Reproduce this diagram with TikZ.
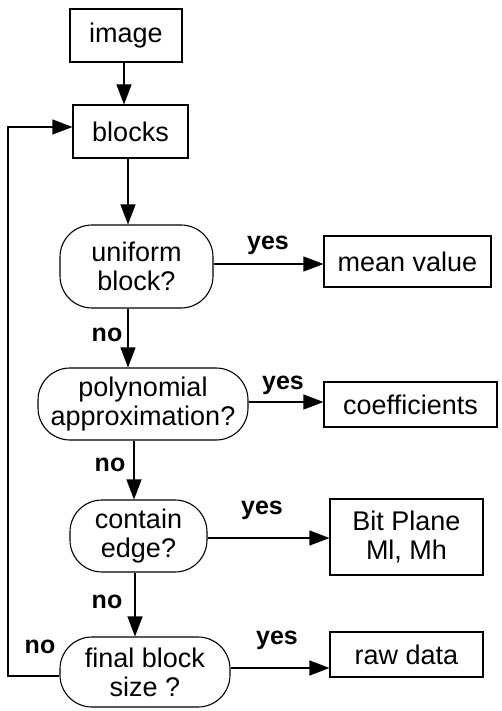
\documentclass[tikz,border=0pt]{standalone}
\usepackage{fontspec}
\setmainfont{Liberation Sans}
\usetikzlibrary{arrows.meta,calc}
\begin{document}
\begin{tikzpicture}[x=1pt,y=-1pt,
  box/.style={draw,line width=1.1pt,inner sep=0pt,align=center,font=\fontsize{27}{29}\selectfont},
  dec/.style={box,rounded corners=32pt},
  arr/.style={line width=1.1pt,-{Triangle[length=20pt,width=15pt]}},
  lbl/.style={font=\fontsize{25}{27}\selectfont\bfseries,inner sep=0pt}]
\useasboundingbox (0,0) rectangle (501,711);
\node[box,minimum width=112pt,minimum height=53pt] (image) at (126,35.5) {image};
\node[box,minimum width=115pt,minimum height=53pt] (blocks) at (130.5,131.5) {blocks};
\node[dec,minimum width=153pt,minimum height=83pt] (uniform) at (136.5,266.5) {uniform\\block?};
\node[box,minimum width=167pt,minimum height=51pt] (mean) at (407.5,261.5) {mean value};
\node[dec,minimum width=210pt,minimum height=72pt] (poly) at (143,404) {polynomial\\approximation?};
\node[box,minimum width=173pt,minimum height=45pt] (coeff) at (410.5,404.5) {coefficients};
\node[dec,minimum width=137pt,minimum height=72pt] (contain) at (138.5,536) {contain\\edge?};
\node[box,minimum width=153pt,minimum height=76pt] (bit) at (406.5,537) {Bit Plane\\Ml, Mh};
\node[dec,minimum width=170pt,minimum height=70pt] (final) at (145,672) {final block\\size ?};
\node[box,minimum width=153pt,minimum height=45pt] (raw) at (406.5,654.5) {raw data};
% vertical arrows
\coordinate (a1) at (124,0);
\coordinate (a2) at (128,0);
\coordinate (a3) at (134,0);
\coordinate (a4) at (135,0);
\draw[arr] (image.south -| a1) -- (blocks.north -| a1);
\draw[arr] (blocks.south -| a2) -- (uniform.north -| a2);
\draw[arr] (uniform.south -| a2) -- (poly.north -| a2);
\draw[arr] (poly.south -| a3) -- (contain.north -| a3);
\draw[arr] (contain.south -| a4) -- (final.north -| a4);
% horizontal arrows
\draw[arr] ([yshift=2.5pt]uniform.east) -- ([yshift=2.5pt]uniform.east -| mean.west);
\draw[arr] ([yshift=2pt]poly.east) -- ([yshift=2pt]poly.east -| coeff.west);
\draw[arr] ([yshift=-2pt]contain.east) -- ([yshift=-2pt]contain.east -| bit.west);
\draw[arr] ([yshift=4pt]final.east) -- ([yshift=4pt]final.east -| raw.west);
% loop
\coordinate (l1) at (8,676);
\coordinate (l2) at (8,127);
\draw[arr] (final.west |- l1) -- (l1) -- (l2) -- (l2 -| blocks.west);
% labels
\node[lbl] (y1) at (268,245) {yes};
\node[lbl] (y2) at (283,385) {yes};
\node[lbl] (y3) at (262,510) {yes};
\node[lbl] (y4) at (277,640) {yes};
\node[lbl] (n1) at (107,335) {no};
\node[lbl] (n2) at (110,465) {no};
\node[lbl] (n3) at (107,602) {no};
\node[lbl] (n4) at (40,647) {no};
\end{tikzpicture}
\end{document}
